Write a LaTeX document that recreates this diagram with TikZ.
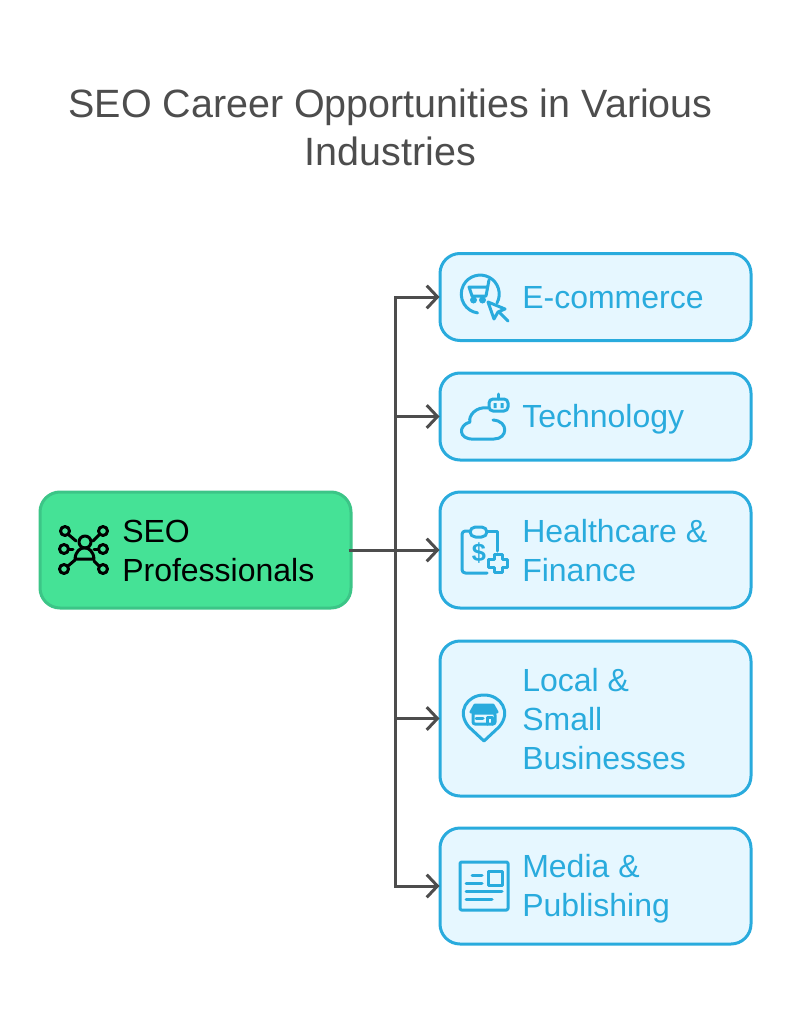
\documentclass[tikz,border=0pt]{standalone}
\usepackage{fontspec}
\setmainfont{Liberation Sans}
\usetikzlibrary{arrows.meta}
\definecolor{inkgray}{HTML}{4D4D4D}
\definecolor{skyline}{HTML}{29ABDD}
\definecolor{skyfill}{HTML}{E6F7FF}
\definecolor{mintfill}{HTML}{45E296}
\definecolor{mintline}{HTML}{3CC587}
\tikzset{
  sectorbox/.style={draw=skyline,fill=skyfill,line width=2.25pt,rounded corners=15pt,minimum width=233.25pt},
  sourcebox/.style={draw=mintline,fill=mintfill,line width=2.25pt,rounded corners=15pt,minimum width=233.25pt,minimum height=87pt},
  sectortext/.style={anchor=west,inner sep=0pt,text=skyline,align=left,font=\fontsize{24}{29.25}\selectfont},
  sourcetext/.style={anchor=west,inner sep=0pt,text=black,align=left,font=\fontsize{24}{29.25}\selectfont},
  titletext/.style={inner sep=0pt,text=inkgray,align=center,font=\fontsize{29.6}{36}\selectfont},
  link/.style={draw=inkgray,line width=2.25pt,shorten >=-0.75pt,-{Straight Barb[length=8pt,width=17pt,line width=2.25pt]}},
  icon/.style={draw=skyline,line width=2.25pt,line cap=round,line join=round},
  iconblack/.style={draw=black,line width=2.25pt,line cap=round,line join=round}
}
\begin{document}
\begin{tikzpicture}[x=0.75pt,y=-0.75pt]
  \useasboundingbox (0,0) rectangle (791,1024);
  % title
  \node[titletext] (title) at (390.5,127) {SEO Career Opportunities in Various\\Industries};
  % boxes
  \node[sourcebox] (source) at (195.5,550) {};
  \node[sectorbox,minimum height=65.25pt] (ecom) at (595.5,297) {};
  \node[sectorbox,minimum height=65.25pt] (tech) at (595.5,416.5) {};
  \node[sectorbox,minimum height=87pt] (health) at (595.5,550) {};
  \node[sectorbox,minimum height=116.25pt] (local) at (595.5,718.5) {};
  \node[sectorbox,minimum height=87pt] (media) at (595.5,886) {};
  % texts
  \node[sourcetext] (sourcelabel) at (122,551) {SEO\\Professionals};
  \node[sectortext] (ecomlabel) at (522,298) {E-commerce};
  \node[sectortext] (techlabel) at (522,419) {Technology};
  \node[sectortext] (healthlabel) at (522,551) {Healthcare \&\\Finance};
  \node[sectortext] (locallabel) at (522,719) {Local \&\\Small\\Businesses};
  \node[sectortext] (medialabel) at (522,889) {Media \&\\Publishing};
  % connectors
  \coordinate (bus) at (395,550);
  \foreach \n in {ecom,tech,local,media}
    \draw[link] (bus) |- (\n.west);
  \draw[link,shorten <=-3pt] (source.east) -- (health.west);
  % cart icon
  \draw[icon] (497,303) arc (28:-262:19);
  \draw[icon] (489,280) -- (486,296) -- (472,296) -- (469,287) -- (487,287);
  \fill[skyline] (473.5,300) circle (3.5) (482.5,300) circle (3.5);
  \draw[icon] (488,302) -- (505,309) -- (498,312) -- (494,319) -- cycle;
  \draw[icon] (499,312) -- (508,321);
  % robot cloud icon
  \draw[icon] (488,408) .. controls (476,406) and (468,416) .. (470,422)
    .. controls (458,425) and (458,440) .. (474,439) -- (494,439)
    .. controls (508,439) and (509,421) .. (493,420);
  \draw[icon,rounded corners=3pt] (489,399) rectangle (508,411);
  \draw[icon] (498,399) -- (498,394);
  \fill[skyline] (493.5,403) rectangle (496.5,408) (500.5,403) rectangle (503.5,408);
  % clipboard icon
  \draw[icon,rounded corners=2.5pt] (471,531) -- (462,531) -- (462,573) -- (487,573);
  \draw[icon] (488,531) -- (497,531) -- (497,551);
  \draw[icon,rounded corners=4pt,fill=skyfill] (470,527) rectangle (487,537);
  \node[inner sep=0pt,text=skyline,font=\fontsize{19}{19}\bfseries\selectfont] (dollar) at (479,553) {\$};
  \draw[icon] (494,554) -- (502,554) -- (502,559) -- (507,559) -- (507,567) -- (502,567)
    -- (502,572) -- (494,572) -- (494,567) -- (488,567) -- (488,559) -- (494,559) -- cycle;
  % store pin icon
  \draw[icon] (484,741) -- (469,727) .. controls (456,712) and (467,695) .. (484,695)
    .. controls (501,695) and (512,712) .. (499,727) -- cycle;
  \draw[icon,rounded corners=1.5pt] (473,713) rectangle (495,724);
  \draw[icon,fill=skyline] (475,705) -- (493,705) -- (497,712) -- (471,712) -- cycle;
  \draw[icon] (487,724) -- (487,717) -- (492,717) -- (492,724);
  \draw[icon] (476,718) -- (483,718);
  % newspaper icon
  \draw[icon,rounded corners=1pt] (460,862) rectangle (508,910);
  \draw[icon] (488,871) rectangle (502,885);
  \draw[icon] (472,875) -- (482,875);
  \draw[icon] (466,883) -- (482,883);
  \draw[icon] (466,891) -- (502,891);
  \draw[icon] (466,899) -- (492,899);
  % network icon
  \foreach \cx/\cy in {65/531,103/531,64/549,103/549,64/569,103/569}
    \draw[iconblack] (\cx,\cy) circle (4.5);
  \draw[iconblack] (85,542) circle (6);
  \draw[iconblack] (75,559) .. controls (76,544) and (93,544) .. (94,559) -- cycle;
  \draw[iconblack] (69,535) -- (76,541);
  \draw[iconblack] (99,535) -- (93,541);
  \draw[iconblack] (69,549) -- (73,549);
  \draw[iconblack] (98,549) -- (94,549);
  \draw[iconblack] (68,566) -- (75,560);
  \draw[iconblack] (99,566) -- (94,561);
\end{tikzpicture}
\end{document}
